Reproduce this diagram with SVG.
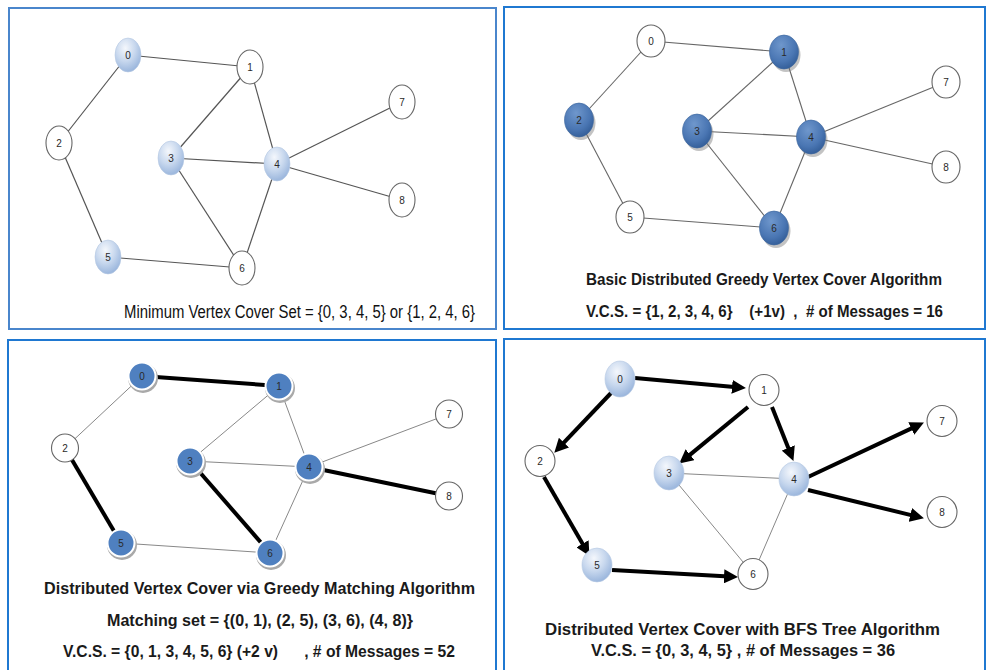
<svg xmlns="http://www.w3.org/2000/svg" width="987" height="670" viewBox="0 0 987 670">
<style>
.panel{fill:#fff;stroke:#1f78d1;stroke-width:2}
.panel1{stroke:#4a86cc}
.e1{stroke:#555;stroke-width:1.2;fill:none}
.e2{stroke:#666;stroke-width:1.1;fill:none}
.e3{stroke:#888;stroke-width:1;fill:none}
.thick{stroke:#000;stroke-width:4;fill:none}
.arr{stroke:#000;stroke-width:4;fill:none;marker-end:url(#ah)}
.white{fill:#fff;stroke:#666;stroke-width:1.1}
.light{fill:url(#gLight);stroke:#b7c9e2;stroke-width:0.6}
.dark{fill:url(#gDark);stroke:#3a649c;stroke-width:0.6}
.shadow{fill:#7a7a7a;opacity:0.45}
.flat{fill:#4f80c0;stroke:#fff;stroke-width:2}
.flatsh{fill:#a9a9a9}
.lbl{font-family:"Liberation Sans",Arial,sans-serif;font-size:10px;fill:#2a2a2a;text-anchor:middle}
.cap{font-family:"Liberation Sans",Arial,sans-serif;font-size:18px;fill:#111}
.capb{font-family:"Liberation Sans",Arial,sans-serif;font-size:16px;font-weight:bold;fill:#1a1a1a}
</style>
<defs>
<radialGradient id="gLight" cx="0.4" cy="0.3" r="0.75">
<stop offset="0" stop-color="#f4f7fc"/>
<stop offset="0.5" stop-color="#c8d8ee"/>
<stop offset="1" stop-color="#94b1da"/>
</radialGradient>
<radialGradient id="gDark" cx="0.4" cy="0.3" r="0.8">
<stop offset="0" stop-color="#6f97cc"/>
<stop offset="0.6" stop-color="#4a76b3"/>
<stop offset="1" stop-color="#2c5690"/>
</radialGradient>
<marker id="ah" markerUnits="userSpaceOnUse" markerWidth="14" markerHeight="14" viewBox="0 0 14 14" refX="5" refY="7" orient="auto">
<path d="M0,0 L14,7 L0,14 z" fill="#000"/>
</marker>
</defs>

<rect width="987" height="670" fill="#fff"/>

<g id="panels">
<rect class="panel panel1" x="9" y="8" width="487" height="321"/>
<rect class="panel" x="504" y="7" width="481" height="322"/>
<rect class="panel" x="8" y="340" width="488" height="340"/>
<rect class="panel" x="504" y="339" width="481" height="341"/>
</g>

<!-- Panel 1 -->
<g id="p1-connectors">
<line class="e1" x1="128" y1="55" x2="250" y2="67"/>
<line class="e1" x1="128" y1="55" x2="59" y2="143"/>
<line class="e1" x1="59" y1="143" x2="108" y2="257"/>
<line class="e1" x1="108" y1="257" x2="242" y2="268"/>
<line class="e1" x1="250" y1="67" x2="171" y2="158"/>
<line class="e1" x1="250" y1="67" x2="277" y2="164"/>
<line class="e1" x1="171" y1="158" x2="277" y2="164"/>
<line class="e1" x1="171" y1="158" x2="242" y2="268"/>
<line class="e1" x1="277" y1="164" x2="242" y2="268"/>
<line class="e1" x1="277" y1="164" x2="402" y2="102"/>
<line class="e1" x1="277" y1="164" x2="402" y2="200"/>
</g>
<g id="p1-n0"><ellipse class="light" cx="128" cy="55" rx="13" ry="17"/><text class="lbl" x="128" y="59">0</text></g>
<g id="p1-n1"><ellipse class="white" cx="250" cy="67" rx="13" ry="17"/><text class="lbl" x="250" y="71">1</text></g>
<g id="p1-n2"><ellipse class="white" cx="59" cy="143" rx="13" ry="17"/><text class="lbl" x="59" y="147">2</text></g>
<g id="p1-n3"><ellipse class="light" cx="171" cy="158" rx="13" ry="17"/><text class="lbl" x="171" y="162">3</text></g>
<g id="p1-n4"><ellipse class="light" cx="277" cy="164" rx="13" ry="17"/><text class="lbl" x="277" y="168">4</text></g>
<g id="p1-n5"><ellipse class="light" cx="108" cy="257" rx="13" ry="17"/><text class="lbl" x="108" y="261">5</text></g>
<g id="p1-n6"><ellipse class="white" cx="242" cy="268" rx="13" ry="17"/><text class="lbl" x="242" y="272">6</text></g>
<g id="p1-n7"><ellipse class="white" cx="402" cy="102" rx="13" ry="17"/><text class="lbl" x="402" y="106">7</text></g>
<g id="p1-n8"><ellipse class="white" cx="402" cy="200" rx="13" ry="17"/><text class="lbl" x="402" y="204">8</text></g>
<text class="cap" x="124" y="318" textLength="351" lengthAdjust="spacingAndGlyphs">Minimum Vertex Cover Set = {0, 3, 4, 5} or {1, 2, 4, 6}</text>

<!-- Panel 2 -->
<g id="p2-connectors">
<line class="e2" x1="651" y1="41" x2="784" y2="52"/>
<line class="e2" x1="651" y1="41" x2="579" y2="120"/>
<line class="e2" x1="579" y1="120" x2="630" y2="217"/>
<line class="e2" x1="630" y1="217" x2="774" y2="228"/>
<line class="e2" x1="784" y1="52" x2="697" y2="131"/>
<line class="e2" x1="784" y1="52" x2="811" y2="137"/>
<line class="e2" x1="697" y1="131" x2="811" y2="137"/>
<line class="e2" x1="697" y1="131" x2="774" y2="228"/>
<line class="e2" x1="811" y1="137" x2="774" y2="228"/>
<line class="e2" x1="811" y1="137" x2="946" y2="82"/>
<line class="e2" x1="811" y1="137" x2="946" y2="167"/>
</g>
<g id="p2-n0"><ellipse class="white" cx="651" cy="41" rx="14" ry="16"/><text class="lbl" x="651" y="45">0</text></g>
<g id="p2-n1"><ellipse class="shadow" cx="786" cy="55" rx="14.5" ry="17"/><ellipse class="dark" cx="784" cy="52" rx="14.5" ry="17"/><text class="lbl" x="784" y="56">1</text></g>
<g id="p2-n2"><ellipse class="shadow" cx="581" cy="123" rx="14.5" ry="17"/><ellipse class="dark" cx="579" cy="120" rx="14.5" ry="17"/><text class="lbl" x="579" y="124">2</text></g>
<g id="p2-n3"><ellipse class="shadow" cx="699" cy="134" rx="14.5" ry="17"/><ellipse class="dark" cx="697" cy="131" rx="14.5" ry="17"/><text class="lbl" x="697" y="135">3</text></g>
<g id="p2-n4"><ellipse class="shadow" cx="813" cy="140" rx="14.5" ry="17"/><ellipse class="dark" cx="811" cy="137" rx="14.5" ry="17"/><text class="lbl" x="811" y="141">4</text></g>
<g id="p2-n5"><ellipse class="white" cx="630" cy="217" rx="14" ry="16"/><text class="lbl" x="630" y="221">5</text></g>
<g id="p2-n6"><ellipse class="shadow" cx="776" cy="231" rx="14.5" ry="17"/><ellipse class="dark" cx="774" cy="228" rx="14.5" ry="17"/><text class="lbl" x="774" y="232">6</text></g>
<g id="p2-n7"><ellipse class="white" cx="946" cy="82" rx="14" ry="16"/><text class="lbl" x="946" y="86">7</text></g>
<g id="p2-n8"><ellipse class="white" cx="946" cy="167" rx="14" ry="16"/><text class="lbl" x="946" y="171">8</text></g>
<text class="capb" x="586" y="285" textLength="356" lengthAdjust="spacingAndGlyphs">Basic Distributed Greedy Vertex Cover Algorithm</text>
<text class="capb" x="586" y="317" textLength="357" lengthAdjust="spacingAndGlyphs" xml:space="preserve">V.C.S. = {1, 2, 3, 4, 6}    (+1v)  ,  # of Messages = 16</text>

<!-- Panel 3 -->
<g id="p3-connectors">
<line class="thick" x1="142" y1="376" x2="279" y2="386"/>
<line class="e3" x1="142" y1="376" x2="65" y2="448"/>
<line class="thick" x1="65" y1="448" x2="121" y2="543"/>
<line class="e3" x1="121" y1="543" x2="270" y2="553"/>
<line class="e3" x1="279" y1="386" x2="190" y2="461"/>
<line class="e3" x1="279" y1="386" x2="309" y2="467"/>
<line class="e3" x1="190" y1="461" x2="309" y2="467"/>
<line class="thick" x1="190" y1="461" x2="270" y2="553"/>
<line class="e3" x1="309" y1="467" x2="270" y2="553"/>
<line class="e3" x1="309" y1="467" x2="449" y2="414"/>
<line class="thick" x1="309" y1="467" x2="449" y2="496"/>
</g>
<g id="p3-n0"><circle class="flatsh" cx="143" cy="378" r="15"/><circle class="flat" cx="142" cy="376" r="13.5"/><text class="lbl" x="142" y="380">0</text></g>
<g id="p3-n1"><circle class="flatsh" cx="280" cy="388" r="15"/><circle class="flat" cx="279" cy="386" r="13.5"/><text class="lbl" x="279" y="390">1</text></g>
<g id="p3-n2"><ellipse class="white" cx="65" cy="448" rx="13.5" ry="14"/><text class="lbl" x="65" y="452">2</text></g>
<g id="p3-n3"><circle class="flatsh" cx="191" cy="463" r="15"/><circle class="flat" cx="190" cy="461" r="13.5"/><text class="lbl" x="190" y="465">3</text></g>
<g id="p3-n4"><circle class="flatsh" cx="310" cy="469" r="15"/><circle class="flat" cx="309" cy="467" r="13.5"/><text class="lbl" x="309" y="471">4</text></g>
<g id="p3-n5"><circle class="flatsh" cx="122" cy="545" r="15"/><circle class="flat" cx="121" cy="543" r="13.5"/><text class="lbl" x="121" y="547">5</text></g>
<g id="p3-n6"><circle class="flatsh" cx="271" cy="555" r="15"/><circle class="flat" cx="270" cy="553" r="13.5"/><text class="lbl" x="270" y="557">6</text></g>
<g id="p3-n7"><ellipse class="white" cx="449" cy="414" rx="13.5" ry="14"/><text class="lbl" x="449" y="418">7</text></g>
<g id="p3-n8"><ellipse class="white" cx="449" cy="496" rx="13.5" ry="14"/><text class="lbl" x="449" y="500">8</text></g>
<text class="capb" x="44" y="594" textLength="431" lengthAdjust="spacingAndGlyphs">Distributed Vertex Cover via Greedy Matching Algorithm</text>
<text class="capb" x="107" y="626" textLength="306" lengthAdjust="spacingAndGlyphs">Matching set = {(0, 1), (2, 5), (3, 6), (4, 8)}</text>
<text class="capb" x="63" y="657" textLength="392" lengthAdjust="spacingAndGlyphs" xml:space="preserve">V.C.S. = {0, 1, 3, 4, 5, 6} (+2 v)      , # of Messages = 52</text>

<!-- Panel 4 -->
<g id="p4-connectors">
<line class="e3" x1="669" y1="473" x2="794" y2="479"/>
<line class="e3" x1="669" y1="473" x2="753" y2="574"/>
<line class="e3" x1="794" y1="479" x2="753" y2="574"/>
<line class="arr" x1="635" y1="378" x2="737" y2="387.3"/>
<line class="arr" x1="612" y1="392" x2="560.5" y2="446.2"/>
<line class="arr" x1="748" y1="407" x2="686.2" y2="457.9"/>
<line class="arr" x1="772" y1="407" x2="790.1" y2="452.6"/>
<line class="arr" x1="544" y1="477" x2="585" y2="548.1"/>
<line class="arr" x1="612" y1="570" x2="729" y2="576.6"/>
<line class="arr" x1="808" y1="477" x2="915.8" y2="426.4"/>
<line class="arr" x1="808" y1="490" x2="915.2" y2="516.1"/>
</g>
<g id="p4-n0"><ellipse class="light" cx="620" cy="379" rx="15" ry="18"/><text class="lbl" x="620" y="383">0</text></g>
<g id="p4-n1"><ellipse class="white" cx="764" cy="390" rx="15" ry="15.5"/><text class="lbl" x="764" y="394">1</text></g>
<g id="p4-n2"><ellipse class="white" cx="540" cy="461" rx="15" ry="15.5"/><text class="lbl" x="540" y="465">2</text></g>
<g id="p4-n3"><ellipse class="light" cx="669" cy="473" rx="15" ry="17"/><text class="lbl" x="669" y="477">3</text></g>
<g id="p4-n4"><ellipse class="light" cx="794" cy="479" rx="15" ry="17"/><text class="lbl" x="794" y="483">4</text></g>
<g id="p4-n5"><ellipse class="light" cx="597" cy="565" rx="15" ry="17"/><text class="lbl" x="597" y="569">5</text></g>
<g id="p4-n6"><ellipse class="white" cx="753" cy="574" rx="15" ry="15.5"/><text class="lbl" x="753" y="578">6</text></g>
<g id="p4-n7"><ellipse class="white" cx="942" cy="421" rx="15" ry="15.5"/><text class="lbl" x="942" y="425">7</text></g>
<g id="p4-n8"><ellipse class="white" cx="942" cy="512" rx="15" ry="15.5"/><text class="lbl" x="942" y="516">8</text></g>
<text class="capb" x="545" y="635" textLength="395" lengthAdjust="spacingAndGlyphs">Distributed Vertex Cover with BFS Tree Algorithm</text>
<text class="capb" x="591" y="656" textLength="304" lengthAdjust="spacingAndGlyphs">V.C.S. = {0, 3, 4, 5} , # of Messages = 36</text>
</svg>
